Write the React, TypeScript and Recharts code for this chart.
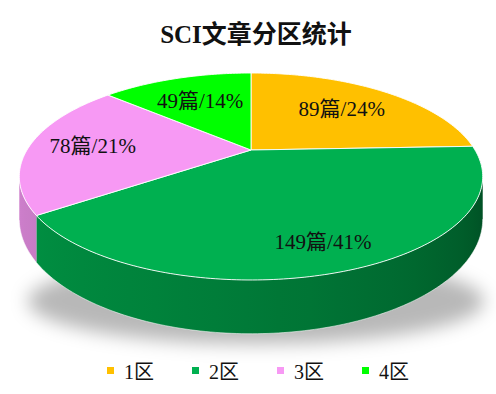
import React from 'react';
import { PieChart, Pie, Cell, Legend } from 'recharts';

const categories = ['1区', '2区', '3区', '4区'];
const counts = [89, 149, 78, 49];
const percentLabels = ['24%', '41%', '21%', '14%'];
const colors = ['#FFC000', '#00B050', '#F799F4', '#00FF00'];

const data = categories.map((name, i) => ({ name, value: counts[i], pct: percentLabels[i] }));

// fake 3D: squashed disc with a bit of perspective and a thickness
const TILT = 0.4317;
const PERSP = 0.256;
const DEPTH = 40 / 224;
const SERIF = '"Times New Roman", "Liberation Serif", "Noto Sans CJK SC", serif';

function project(cx: number, cy: number, R: number, deg: number, r: number, bottom: boolean) {
  const a = (deg * Math.PI) / 180;
  const u = r * Math.cos(a);
  const v = r * Math.sin(a);
  const w = 1 + PERSP * v;
  return [cx + (R * u) / w, cy - (R * TILT * v) / w + (bottom ? (R * DEPTH) / w : 0)];
}

function shade(hex: string, f: number) {
  const n = parseInt(hex.slice(1), 16);
  const c = [(n >> 16) & 255, (n >> 8) & 255, n & 255].map((x) => Math.round(x * f));
  return `rgb(${c[0]},${c[1]},${c[2]})`;
}

function Slice3D(props: any) {
  const { cx, cy, outerRadius: R, startAngle, endAngle, fill, index } = props;
  const steps = Math.max(2, Math.ceil(Math.abs(startAngle - endAngle)));
  const angles: number[] = [];
  for (let i = 0; i <= steps; i++) angles.push(startAngle + ((endAngle - startAngle) * i) / steps);

  const topPts = angles.map((d) => project(cx, cy, R, d, 1, false));
  const top = `M${cx},${cy}L` + topPts.map((p) => p.join(',')).join('L') + 'Z';

  // visible side wall: front part of the rim only
  const lim = (Math.asin(PERSP) * 180) / Math.PI;
  const norm = (d: number) => ((d % 360) + 360) % 360;
  const front = angles.filter((d) => norm(d) >= 180 + lim - 0.5 && norm(d) <= 360 - lim + 0.5);

  let side = null;
  if (front.length > 1) {
    const up = front.map((d) => project(cx, cy, R, d, 1, false));
    const down = front.map((d) => project(cx, cy, R, d, 1, true));
    const xs = up.map((p) => p[0]);
    const x0 = Math.min(...xs);
    const x1 = Math.max(...xs);
    const stops = front
      .map((d, i) => {
        const t = Math.min(1, Math.max(0, (norm(d) - 180) / 180));
        const f = 0.85 - 0.16 * t - 0.31 * t * t;
        return { off: x1 > x0 ? (xs[i] - x0) / (x1 - x0) : 0, col: shade(fill, f) };
      })
      .sort((a, b) => a.off - b.off)
      .filter((_, i, arr) => i % 6 === 0 || i === arr.length - 1);
    const id = `side-${index}`;
    const d =
      'M' + up.map((p) => p.join(',')).join('L') + 'L' + down.slice().reverse().map((p) => p.join(',')).join('L') + 'Z';
    side = (
      <g>
        <defs>
          <linearGradient id={id} gradientUnits="userSpaceOnUse" x1={x0} y1={0} x2={x1} y2={0}>
            {stops.map((s, i) => (
              <stop key={i} offset={s.off} stopColor={s.col} />
            ))}
          </linearGradient>
        </defs>
        <path d={d} fill={`url(#${id})`} />
        <path d={'M' + down.map((p) => p.join(',')).join('L')} fill="none" stroke="#fff" strokeOpacity={0.55} strokeWidth={1} />
      </g>
    );
  }

  return (
    <g>
      {side}
      <path d={top} fill={fill} stroke="#fff" strokeOpacity={0.9} strokeWidth={1} />
    </g>
  );
}

function renderLabel(props: any) {
  const { cx, cy, midAngle, outerRadius: R } = props;
  const item = props.payload && props.payload.pct ? props.payload : props;
  const s = Math.sin((midAngle * Math.PI) / 180);
  const [x, y] = project(cx, cy, R, midAngle, 0.72 - 0.09 * s, false);
  return (
    <text x={x} y={y} textAnchor="middle" dominantBaseline="central" fontFamily={SERIF} fontSize={21} fill="#111">
      {`${item.value}篇/${item.pct}`}
    </text>
  );
}

function LegendRow(props: any) {
  const payload = props.payload || [];
  return (
    <div style={{ display: 'flex', justifyContent: 'center', gap: 38, fontFamily: SERIF, fontSize: 20, color: '#111' }}>
      {payload.map((p: any, i: number) => (
        <span key={i} style={{ display: 'inline-flex', alignItems: 'center' }}>
          <span style={{ width: 7, height: 7, background: p.color, display: 'inline-block', marginRight: 10 }} />
          {p.value}
        </span>
      ))}
    </div>
  );
}

export default function App() {
  return (
    <div style={{ position: 'relative', width: 496, height: 394, background: '#fff', overflow: 'hidden' }}>
      <style>{'body{margin:0}'}</style>
      <div
        style={{
          position: 'absolute', left: 28, top: 258, width: 456, height: 86, borderRadius: '50%',
          background: 'rgba(0,0,0,0.28)', filter: 'blur(9px)',
        }}
      />
      <div
        style={{
          position: 'absolute', left: 8, top: 21, width: 496, textAlign: 'center',
          fontFamily: SERIF, fontWeight: 'bold', fontSize: 25, lineHeight: '28px', color: '#111',
        }}
      >
        SCI文章分区统计
      </div>
      <div style={{ position: 'absolute', left: 0, top: 0 }}>
        <PieChart width={496} height={394} margin={{ top: 0, right: 0, bottom: 0, left: 0 }}>
          <Pie
            data={data}
            dataKey="value"
            nameKey="name"
            cx={251}
            cy={150}
            outerRadius={224}
            startAngle={90}
            endAngle={-270}
            shape={Slice3D}
            label={renderLabel}
            labelLine={false}
            isAnimationActive={false}
          >
            {data.map((d, i) => (
              <Cell key={d.name} fill={colors[i]} />
            ))}
          </Pie>
          <Legend content={LegendRow} wrapperStyle={{ left: 10, top: 356, width: 496 }} />
        </PieChart>
      </div>
    </div>
  );
}
